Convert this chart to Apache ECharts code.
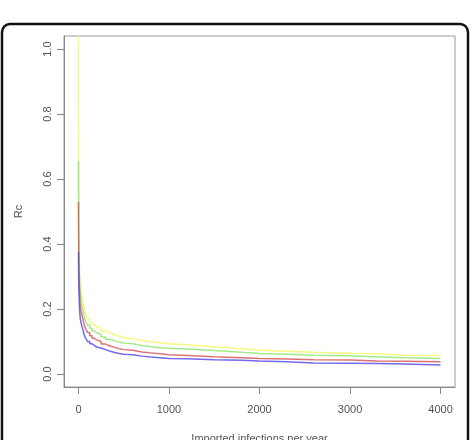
<!DOCTYPE html>
<html>
<head>
<meta charset="utf-8">
<script src="https://cdn.jsdelivr.net/npm/echarts@6/dist/echarts.min.js"></script>
<style>
  html, body { margin: 0; padding: 0; background: #fff; }
  #chart { width: 473px; height: 440px; }
</style>
</head>
<body>
<div id="chart"></div>
<script>
// imported infections per year (x positions of the steps)
const imports = [0, 2, 5, 10, 15, 20, 30, 40, 50, 60, 70, 85, 100, 125, 150, 175, 200, 250, 300, 350,
  400, 450, 500, 600, 700, 800, 900, 1000, 1200, 1500, 1800, 2000, 2300, 2600, 3000, 3300, 3600, 4000]

// Rc for each scenario
const rcYellow = [1.2, 0.52, 0.40, 0.33, 0.30, 0.28, 0.25, 0.235, 0.22, 0.205, 0.19, 0.18, 0.17, 0.16, 0.152, 0.146, 0.14, 0.132, 0.126, 0.121,
  0.116, 0.112, 0.108, 0.103, 0.099, 0.096, 0.093, 0.09, 0.084, 0.078, 0.073, 0.07, 0.067, 0.064, 0.062, 0.058, 0.057, 0.056]
const rcGreen = [0.655, 0.45, 0.36, 0.30, 0.27, 0.25, 0.22, 0.207, 0.195, 0.18, 0.168, 0.158, 0.15, 0.141, 0.133, 0.127, 0.122, 0.114, 0.107, 0.102,
  0.098, 0.095, 0.093, 0.088, 0.084, 0.081, 0.079, 0.077, 0.072, 0.067, 0.063, 0.061, 0.058, 0.056, 0.053, 0.05, 0.048, 0.046]
const rcRed = [0.53, 0.38, 0.31, 0.26, 0.23, 0.21, 0.19, 0.178, 0.168, 0.155, 0.145, 0.136, 0.128, 0.118, 0.11, 0.105, 0.10, 0.092, 0.086, 0.082,
  0.078, 0.075, 0.073, 0.068, 0.065, 0.062, 0.059, 0.057, 0.053, 0.05, 0.048, 0.046, 0.044, 0.043, 0.04, 0.039, 0.038, 0.037]
const rcBlue = [0.375, 0.31, 0.26, 0.21, 0.185, 0.17, 0.155, 0.145, 0.135, 0.124, 0.115, 0.107, 0.10, 0.093, 0.088, 0.083, 0.08, 0.075, 0.07, 0.066,
  0.063, 0.061, 0.059, 0.055, 0.052, 0.05, 0.048, 0.047, 0.044, 0.042, 0.04, 0.038, 0.034, 0.033, 0.032, 0.031, 0.028, 0.027]

const xTicks = [0, 1000, 2000, 3000, 4000]
const yTicks = [0, 0.2, 0.4, 0.6, 0.8, 1.0]

const toPairs = (ys) => imports.map((x, i) => [x, ys[i]])

const lineSeries = (name, color, ys) => ({
  name: name,
  type: 'line',
  step: 'end',
  showSymbol: false,
  data: toPairs(ys),
  lineStyle: { color: color, width: 1.5, opacity: 0.85 },
  itemStyle: { color: color }
})

const axisText = { color: '#555', fontSize: 11, fontFamily: 'Liberation Sans' }

const options = {
  animation: false,
  backgroundColor: '#fff',
  graphic: [
    {
      type: 'rect',
      shape: { x: 2, y: 24, width: 466, height: 460, r: 8 },
      style: { fill: 'none', stroke: '#111', lineWidth: 2.5 },
      z: 100
    }
  ],
  grid: {
    left: 64,
    right: 18,
    top: 36,
    bottom: 53,
    outerBoundsMode: 'none',
    show: true,
    borderColor: '#999',
    borderWidth: 1
  },
  xAxis: {
    type: 'value',
    min: -160,
    max: 4160,
    name: 'Imported infections per year',
    nameLocation: 'middle',
    nameGap: 46,
    nameTextStyle: axisText,
    splitLine: { show: false },
    axisLine: { show: true, onZero: false, lineStyle: { color: '#888' } },
    axisTick: { show: true, length: 7, customValues: xTicks, lineStyle: { color: '#888' } },
    axisLabel: Object.assign({
      margin: 17,
      customValues: xTicks,
      formatter: (v) => String(v)
    }, axisText)
  },
  yAxis: {
    type: 'value',
    min: -0.04,
    max: 1.04,
    name: 'Rc',
    nameLocation: 'middle',
    nameGap: 40,
    nameRotate: 90,
    nameTextStyle: axisText,
    splitLine: { show: false },
    axisLine: { show: true, onZero: false, lineStyle: { color: '#888' } },
    axisTick: { show: true, length: 7, customValues: yTicks, lineStyle: { color: '#888' } },
    axisLabel: Object.assign({
      margin: 11,
      rotate: 90,
      customValues: yTicks,
      formatter: (v) => v.toFixed(1)
    }, axisText)
  },
  series: [
    lineSeries('yellow', '#f6f66e', rcYellow),
    lineSeries('green', '#93e874', rcGreen),
    lineSeries('red', '#d65a5a', rcRed),
    lineSeries('blue', '#5b4fe6', rcBlue)
  ]
}

const chart = echarts.init(document.getElementById('chart'))
chart.setOption(options)
window.addEventListener('resize', function () {
  chart && chart.resize()
})
</script>
</body>
</html>
